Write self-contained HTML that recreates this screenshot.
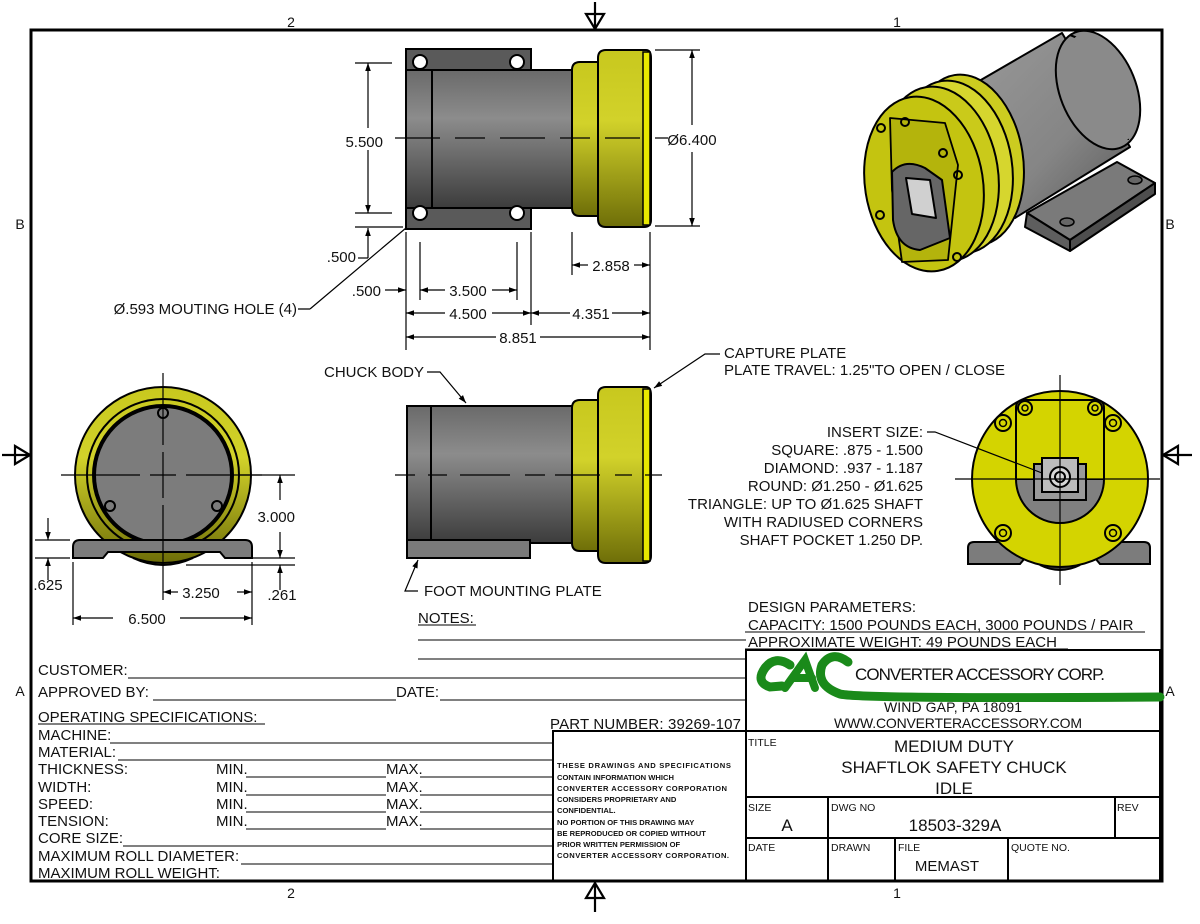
<!DOCTYPE html>
<html><head><meta charset="utf-8"><style>
html,body{margin:0;padding:0;background:#fff;}
svg{display:block;}
text{font-family:"Liberation Sans",Arial,sans-serif;fill:#111;}
</style></head><body>
<svg width="1200" height="924" viewBox="0 0 1200 924" xmlns="http://www.w3.org/2000/svg">
<defs>
<marker id="a" viewBox="0 0 10 10" refX="10" refY="5" markerWidth="12" markerHeight="8" markerUnits="userSpaceOnUse" orient="auto-start-reverse"><path d="M0,1.5L10,5L0,8.5z" fill="#000"/></marker>
<linearGradient id="gb" x1="0" y1="0" x2="0" y2="1"><stop offset="0" stop-color="#6a6a6a"/><stop offset=".35" stop-color="#8c8c8c"/><stop offset="1" stop-color="#3c3c3c"/></linearGradient>
<linearGradient id="gy" x1="0" y1="0" x2="0" y2="1"><stop offset="0" stop-color="#c8c81e"/><stop offset=".4" stop-color="#d2d22a"/><stop offset="1" stop-color="#6e6e08"/></linearGradient>
<linearGradient id="gi" x1="0" y1="0" x2="1" y2="1"><stop offset="0" stop-color="#9a9a9a"/><stop offset=".6" stop-color="#858585"/><stop offset="1" stop-color="#5a5a5a"/></linearGradient>
</defs>

<!-- frame -->
<rect x="31" y="30" width="1131" height="851" fill="none" stroke="#000" stroke-width="3"/>
<text x="291" y="27" font-size="14" text-anchor="middle">2</text>
<text x="897" y="27" font-size="14" text-anchor="middle">1</text>
<text x="291" y="898" font-size="14" text-anchor="middle">2</text>
<text x="897" y="898" font-size="14" text-anchor="middle">1</text>
<text x="20" y="229" font-size="14" text-anchor="middle">B</text>
<text x="1170" y="229" font-size="14" text-anchor="middle">B</text>
<text x="20" y="696" font-size="14" text-anchor="middle">A</text>
<text x="1170" y="696" font-size="14" text-anchor="middle">A</text>
<g stroke="#000" stroke-width="2.2" fill="none">
<path d="M595,2V30M586,14H604L595,29Z"/>
<path d="M595,912V881M586,898H604L595,883Z"/>
<path d="M2,455H31M15,446V464L30,455Z"/>
<path d="M1192,455H1162M1178,446V464L1163,455Z"/>
</g>

<!-- TOP VIEW -->
<g stroke="#000" stroke-width="2">
<rect x="406" y="49" width="125" height="180" fill="#5a5a5a"/>
<rect x="406" y="70" width="166" height="138" fill="url(#gb)"/>
<line x1="432" y1="70" x2="432" y2="208"/>
<path d="M572,70Q572,62 580,62H598V216H580Q572,216 572,208Z" fill="url(#gy)"/>
<path d="M598,58Q598,50 606,50H646Q651,50 651,58V220Q651,227 644,227H606Q598,227 598,219Z" fill="url(#gy)"/>
<rect x="643" y="52" width="7" height="173" fill="#e8e800" stroke-width="1.5"/>
</g>
<g stroke="#000" stroke-width="2" fill="#fff">
<circle cx="420" cy="62" r="7"/><circle cx="517" cy="62" r="7"/><circle cx="420" cy="213" r="7"/><circle cx="517" cy="213" r="7"/>
</g>
<g stroke="#000" stroke-width="1.2" fill="none">
<path d="M395,138H440M455,138H485M500,138H545M560,138H590M605,138H640M655,138H668"/>
<path d="M355,63H392M355,213H392M355,227H403"/>
<path d="M368,128V63" marker-end="url(#a)"/><path d="M368,150V213" marker-end="url(#a)"/>
<path d="M368,258V228" marker-end="url(#a)"/><path d="M358,258H368"/>
<path d="M406,232V350M420,242V300M517,242V300M531,232V325M572,232V275M650,232V350M655,50H700M655,226H700"/>
<path d="M692,125V50" marker-end="url(#a)"/><path d="M692,152V226" marker-end="url(#a)"/>
<path d="M385,290H406" marker-end="url(#a)"/>
<path d="M445,290H420" marker-end="url(#a)"/><path d="M492,290H517" marker-end="url(#a)"/>
<path d="M445,313H406" marker-end="url(#a)"/><path d="M492,313H531" marker-end="url(#a)"/>
<path d="M570,313H531" marker-end="url(#a)"/><path d="M612,313H650" marker-end="url(#a)"/>
<path d="M496,337H406" marker-end="url(#a)"/><path d="M540,337H650" marker-end="url(#a)"/>
<path d="M588,265H572" marker-end="url(#a)"/><path d="M634,265H650" marker-end="url(#a)"/>
<path d="M310,309L406,228M298,309H310"/>
</g>
<g font-size="15">
<text x="383" y="147" text-anchor="end">5.500</text>
<text x="356" y="262" text-anchor="end">.500</text>
<text x="381" y="296" text-anchor="end">.500</text>
<text x="468" y="296" text-anchor="middle">3.500</text>
<text x="468" y="319" text-anchor="middle">4.500</text>
<text x="591" y="319" text-anchor="middle">4.351</text>
<text x="518" y="343" text-anchor="middle">8.851</text>
<text x="611" y="271" text-anchor="middle">2.858</text>
<text x="692" y="145" text-anchor="middle">Ø6.400</text>
<text x="297" y="314" text-anchor="end">Ø.593 MOUTING HOLE (4)</text>
</g>

<!-- FRONT VIEW -->
<g stroke="#000" stroke-width="2">
<rect x="407" y="406" width="165" height="137" fill="url(#gb)"/>
<line x1="431" y1="406" x2="431" y2="540"/>
<rect x="407" y="540" width="123" height="18" fill="#7a7a7a"/>
<path d="M572,408Q572,400 580,400H598V551H580Q572,551 572,543Z" fill="url(#gy)"/>
<path d="M598,395Q598,387 606,387H646Q651,387 651,395V556Q651,563 644,563H606Q598,563 598,555Z" fill="url(#gy)"/>
<rect x="643" y="389" width="7" height="172" fill="#e8e800" stroke-width="1.5"/>
</g>
<g stroke="#000" stroke-width="1.2" fill="none">
<path d="M395,475H415M428,475H447M460,475H510M525,475H545M555,475H600M615,475H632M645,475H662"/>
<path d="M427,372H440L466,403" marker-end="url(#a)"/>
<path d="M720,354H705L654,388" marker-end="url(#a)"/>
<path d="M418,591H405L418,560" marker-end="url(#a)"/>
</g>
<g font-size="15">
<text x="324" y="377">CHUCK BODY</text>
<text x="724" y="358">CAPTURE PLATE</text>
<text x="724" y="375">PLATE TRAVEL: 1.25"TO OPEN / CLOSE</text>
<text x="424" y="596">FOOT MOUNTING PLATE</text>
</g>

<!-- LEFT SIDE VIEW -->
<g stroke="#000" stroke-width="2">
<path d="M133,558Q163,572 193,558Z" fill="#b8b814"/>
<circle cx="163" cy="475" r="88" fill="url(#gy)"/>
<circle cx="163" cy="475" r="76" fill="none" stroke-width="2"/>
<circle cx="163" cy="475" r="69" fill="#7c7c7c" stroke-width="4"/>
<path d="M73,547Q73,540 80,540H245Q252,540 252,547V558H225L220,552H108L103,558H73Z" fill="#7c7c7c"/>
<circle cx="163" cy="413" r="5" fill="none"/><circle cx="110" cy="506" r="5" fill="none"/><circle cx="217" cy="506" r="5" fill="none"/>
</g>
<g stroke="#000" stroke-width="1.2" fill="none">
<path d="M61,475H140M150,475H176M186,475H262M163,373V445M163,452V498M163,505V600"/>
<path d="M240,475H295M240,558H295M186,565H295M73,562V625M252,562V625M35,540H70M35,558H70"/>
<path d="M280,500V475" marker-end="url(#a)"/><path d="M280,532V558" marker-end="url(#a)"/>
<path d="M280,590V565" marker-end="url(#a)"/>
<path d="M48,518V540" marker-end="url(#a)"/><path d="M48,580V558" marker-end="url(#a)"/>
<path d="M178,592H163" marker-end="url(#a)"/><path d="M237,592H252" marker-end="url(#a)"/>
<path d="M113,618H73" marker-end="url(#a)"/><path d="M180,618H252" marker-end="url(#a)"/>
</g>
<g font-size="15">
<text x="295" y="522" text-anchor="end">3.000</text>
<text x="48" y="590" text-anchor="middle">.625</text>
<text x="282" y="600" text-anchor="middle">.261</text>
<text x="201" y="598" text-anchor="middle">3.250</text>
<text x="147" y="624" text-anchor="middle">6.500</text>
</g>

<!-- RIGHT END VIEW -->
<g stroke="#000" stroke-width="2">
<path d="M968,548Q968,542 974,542H1144Q1150,542 1150,548V564H1100L1095,558H1025L1020,564H968Z" fill="#7c7c7c"/>
<path d="M1040,565Q1060,575 1080,565Z" fill="#444"/>
<circle cx="1060" cy="479" r="88" fill="#d4d400"/>
<path d="M1016,479A44,44 0 0 0 1104,479Z" fill="#808080"/>
<path d="M1016,479V408Q1016,400 1024,400H1096Q1104,400 1104,408V479" fill="#d4d400"/>
<rect x="1034" y="464" width="52" height="36" fill="#9a9a9a"/>
<rect x="1042" y="458" width="36" height="34" fill="#bcbcbc"/>
<circle cx="1060" cy="477" r="10" fill="#d8d8d8"/><circle cx="1060" cy="477" r="5" fill="none"/>
</g>
<g stroke="#000" fill="none">
<g stroke-width="2"><circle cx="1025" cy="408" r="7"/><circle cx="1095" cy="408" r="7"/>
<circle cx="1003" cy="423" r="8"/><circle cx="1113" cy="423" r="8"/>
<circle cx="1003" cy="533" r="8"/><circle cx="1113" cy="533" r="8"/></g>
<g stroke-width="1.5"><circle cx="1025" cy="408" r="3"/><circle cx="1095" cy="408" r="3"/>
<circle cx="1003" cy="423" r="3.5"/><circle cx="1113" cy="423" r="3.5"/>
<circle cx="1003" cy="533" r="3.5"/><circle cx="1113" cy="533" r="3.5"/></g>
</g>
<g stroke="#000" stroke-width="1.2" fill="none">
<path d="M955,479H1160M1060,375V585"/>
<path d="M927,432H935L1042,473"/>
</g>
<g font-size="15" text-anchor="end">
<text x="923" y="437">INSERT SIZE:</text>
<text x="923" y="455">SQUARE: .875 - 1.500</text>
<text x="923" y="473">DIAMOND: .937 - 1.187</text>
<text x="923" y="491">ROUND: Ø1.250 - Ø1.625</text>
<text x="923" y="509">TRIANGLE: UP TO Ø1.625 SHAFT</text>
<text x="923" y="527">WITH RADIUSED CORNERS</text>
<text x="923" y="545">SHAFT POCKET 1.250 DP.</text>
</g>

<!-- ISOMETRIC -->
<g stroke="#000" stroke-width="2" stroke-linejoin="round">
<!-- foot plate -->
<path d="M1117,162L1155,183L1070,240L1027,213Z" fill="#7a7a7a"/>
<path d="M1155,183L1155,194L1070,251L1070,240Z" fill="#4e4e4e"/>
<path d="M1027,213L1070,240L1070,251L1025,227Z" fill="#5e5e5e"/>
<ellipse cx="1135" cy="180" rx="7" ry="4" fill="#666" stroke-width="1.5"/>
<ellipse cx="1067" cy="222" rx="7" ry="4" fill="#666" stroke-width="1.5"/>
<!-- grey body -->
<path d="M955,95L1062,33L1130,147L1015,218Z" fill="url(#gi)"/>
<ellipse cx="1098" cy="90" rx="38" ry="62" fill="#8a8a8a" transform="rotate(-22 1098 90)"/>
<path d="M1070,35Q1125,55 1128,140" fill="none" stroke-width="2"/>
<ellipse cx="1102" cy="88" rx="32" ry="58" fill="#8a8a8a" stroke="none" transform="rotate(-22 1102 88)"/>
<!-- collar -->
<ellipse cx="968" cy="160" rx="55" ry="86" fill="#cccc20" transform="rotate(-9 968 160)"/>
<ellipse cx="955" cy="167" rx="57" ry="87" fill="#d6d62e" transform="rotate(-9 955 167)"/>
<ellipse cx="940" cy="174" rx="58" ry="88" fill="#caca1a" transform="rotate(-9 940 174)"/>
<ellipse cx="924" cy="184" rx="59" ry="88" fill="#c4c410" transform="rotate(-9 924 184)"/>
<!-- face plate -->
<path d="M890,118L945,123L958,165L948,260L902,262L892,190Z" fill="#b4b40c" stroke-width="1.8"/>
<path d="M892,172Q905,158 925,168L942,180L950,238L920,250Q897,248 893,220Z" fill="#666"/>
<path d="M906,178L930,180L936,218L912,214Z" fill="#d0d0d0"/>
</g>
<g stroke="#000" stroke-width="2" fill="none">
<circle cx="881" cy="128" r="4"/><circle cx="958" cy="175" r="4"/><circle cx="880" cy="215" r="4"/><circle cx="957" cy="257" r="4"/>
<circle cx="905" cy="122" r="4"/><circle cx="943" cy="153" r="4"/>
</g>

<!-- NOTES / DESIGN -->
<g font-size="15">
<text x="418" y="623">NOTES:</text>
<text x="748" y="612">DESIGN PARAMETERS:</text>
<text x="748" y="630">CAPACITY: 1500 POUNDS EACH, 3000 POUNDS / PAIR</text>
<text x="748" y="647">APPROXIMATE WEIGHT: 49 POUNDS EACH</text>
</g>
<g stroke="#000" stroke-width="1">
<path d="M418,625H476M418,640H746M418,659H746M745,632H1145M745,649H1068"/>
</g>

<!-- left form -->
<g font-size="15">
<text x="38" y="675">CUSTOMER:</text>
<text x="38" y="697">APPROVED BY:</text>
<text x="396" y="697">DATE:</text>
<text x="38" y="722">OPERATING SPECIFICATIONS:</text>
<text x="38" y="740">MACHINE:</text>
<text x="38" y="757">MATERIAL:</text>
<text x="38" y="774">THICKNESS:</text><text x="216" y="774">MIN.</text><text x="386" y="774">MAX.</text>
<text x="38" y="792">WIDTH:</text><text x="216" y="792">MIN.</text><text x="386" y="792">MAX.</text>
<text x="38" y="809">SPEED:</text><text x="216" y="809">MIN.</text><text x="386" y="809">MAX.</text>
<text x="38" y="826">TENSION:</text><text x="216" y="826">MIN.</text><text x="386" y="826">MAX.</text>
<text x="38" y="843">CORE SIZE:</text>
<text x="38" y="861">MAXIMUM ROLL DIAMETER:</text>
<text x="38" y="878">MAXIMUM ROLL WEIGHT:</text>
<text x="550" y="729" textLength="191">PART NUMBER: 39269-107</text>
</g>
<g stroke="#000" stroke-width="1">
<path d="M128,678H746M153,700H396M440,700H746M38,724H265M110,743H553M118,760H553"/>
<path d="M246,777H386M420,777H553M246,795H386M420,795H553M246,812H386M420,812H553M246,829H386M420,829H553"/>
<path d="M123,846H553M241,864H553M225,881H553"/>
</g>

<!-- title block -->
<g stroke="#000" stroke-width="2" fill="none">
<rect x="746" y="650" width="414" height="231"/>
<rect x="553" y="731" width="193" height="150"/>
<path d="M746,731H1160M746,797H1160M746,838H1160M828,797V881M1115,797V838M895,838V881M1008,838V881"/>
</g>
<g font-weight="bold" font-size="7.6" style="font-family:'DejaVu Sans Condensed','DejaVu Sans',sans-serif">
<text x="557" y="768" textLength="174">THESE DRAWINGS AND SPECIFICATIONS</text>
<text x="557" y="780">CONTAIN INFORMATION WHICH</text>
<text x="557" y="791" textLength="170">CONVERTER ACCESSORY CORPORATION</text>
<text x="557" y="802">CONSIDERS PROPRIETARY AND</text>
<text x="557" y="813">CONFIDENTIAL.</text>
<text x="557" y="825">NO PORTION OF THIS DRAWING MAY</text>
<text x="557" y="836">BE REPRODUCED OR COPIED WITHOUT</text>
<text x="557" y="847">PRIOR WRITTEN PERMISSION OF</text>
<text x="557" y="858" textLength="172">CONVERTER ACCESSORY CORPORATION.</text>
</g>
<!-- logo -->
<g fill="none" stroke="#1a8a1a" stroke-linecap="round">
<path d="M790,665Q775,655 765,668Q755,682 770,687L782,686" stroke-width="9"/>
<path d="M785,688L805,660L815,688M793,678H812" stroke-width="8"/>
<path d="M848,662Q832,650 822,665Q815,685 840,694Q860,699 1160,697" stroke-width="9"/>
</g>
<text x="855" y="680" font-size="17" textLength="250">CONVERTER ACCESSORY CORP.</text>
<text x="953" y="712" font-size="14" text-anchor="middle" textLength="138">WIND GAP, PA 18091</text>
<text x="958" y="728" font-size="14" text-anchor="middle" textLength="248">WWW.CONVERTERACCESSORY.COM</text>
<g font-size="10.5">
<text x="748" y="746">TITLE</text><text x="748" y="811">SIZE</text><text x="831" y="811">DWG NO</text><text x="1117" y="811">REV</text>
<text x="748" y="851">DATE</text><text x="831" y="851">DRAWN</text><text x="898" y="851">FILE</text><text x="1011" y="851">QUOTE NO.</text>
</g>
<g font-size="17" text-anchor="middle">
<text x="954" y="752">MEDIUM DUTY</text>
<text x="954" y="773">SHAFTLOK SAFETY CHUCK</text>
<text x="954" y="794">IDLE</text>
<text x="787" y="831">A</text>
<text x="955" y="831">18503-329A</text>
<text x="947" y="871" font-size="15">MEMAST</text>
</g>
</svg>
</body></html>
